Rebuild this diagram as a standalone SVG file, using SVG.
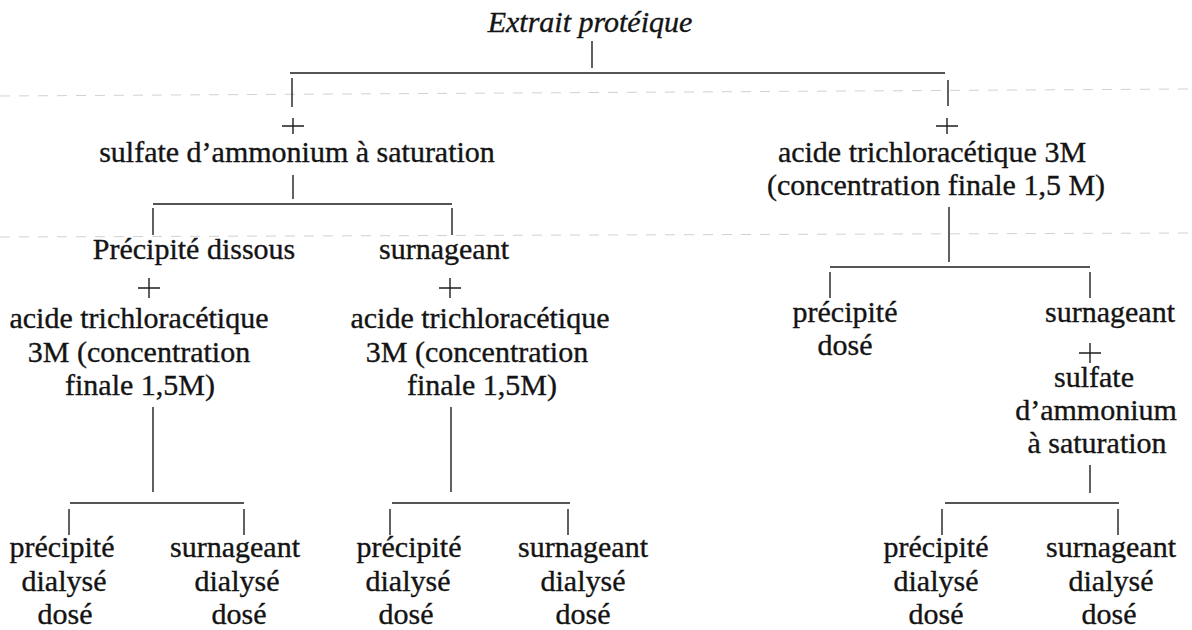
<svg xmlns="http://www.w3.org/2000/svg" xmlns:xlink="http://www.w3.org/1999/xlink" width="1192" height="630" viewBox="0 0 1192 630">
<style>
text{font-family:"Liberation Serif","Times New Roman",serif;font-size:30px;fill:#141414;stroke:#141414;stroke-width:0.35;text-anchor:middle}
.it{font-style:italic}
.ln{stroke:#1e1e1e;stroke-width:1.4;fill:none}
.scan{stroke:#d2d2d2;stroke-width:1;stroke-dasharray:10 9;fill:none}
</style>
<defs>
<path id="plus" d="M-11 0H11M0 -8V8" stroke="#1e1e1e" stroke-width="1.4" fill="none"/>
<path id="plus2" d="M-11 0H11M0 -10V10" stroke="#1e1e1e" stroke-width="1.4" fill="none"/>
</defs>
<rect width="1192" height="630" fill="#ffffff"/>
<g id="scan-marks">
<path class="scan" d="M0 96L1192 89"/>
<path class="scan" d="M0 237L1192 233"/>
</g>
<g id="connectors">
<path class="ln" d="M592 41V68M290 73H945M292 78V107M948 80V106"/>
<path class="ln" d="M293 175V199M153 204H452M153 208V235M452 208V235"/>
<path class="ln" d="M949 207V262M830 267H1090M830 272V298M1090 272V298"/>
<path class="ln" d="M153 407V492M70 503H244M69 509V535M244 509V535"/>
<path class="ln" d="M451 407V492M392 503H570M390 509V535M568 509V535"/>
<path class="ln" d="M1090 465V493M945 503H1119M942 509V535M1118 509V535"/>
<use xlink:href="#plus" x="293" y="126"/>
<use xlink:href="#plus" x="947" y="126"/>
<use xlink:href="#plus2" x="149" y="288"/>
<use xlink:href="#plus2" x="450" y="288"/>
<use xlink:href="#plus2" x="1090" y="353"/>
</g>
<g id="n-extrait"><text class="it" x="590" y="32">Extrait protéique</text></g>
<g id="n-sulfate"><text x="297" y="162">sulfate d’ammonium à saturation</text></g>
<g id="n-tca-right"><text x="932" y="162">acide trichloracétique 3M</text><text x="936" y="195">(concentration finale 1,5 M)</text></g>
<g id="n-precipite-dissous"><text x="194" y="259">Précipité dissous</text></g>
<g id="n-surnageant-left"><text x="444" y="259">surnageant</text></g>
<g id="n-tca-left"><text x="139" y="328">acide trichloracétique</text><text x="139" y="362">3M (concentration</text><text x="140" y="395">finale 1,5M)</text></g>
<g id="n-tca-mid"><text x="480" y="328">acide trichloracétique</text><text x="477" y="362">3M (concentration</text><text x="482" y="395">finale 1,5M)</text></g>
<g id="n-precipite-dose"><text x="845" y="322">précipité</text><text x="845" y="355">dosé</text></g>
<g id="n-surnageant-right"><text x="1110" y="322">surnageant</text></g>
<g id="n-sulfate-right"><text x="1094" y="387">sulfate</text><text x="1096" y="420">d’ammonium</text><text x="1097" y="453">à saturation</text></g>
<g id="n-b1"><text x="62" y="557">précipité</text><text x="64" y="591">dialysé</text><text x="65" y="624">dosé</text></g>
<g id="n-b2"><text x="235" y="557">surnageant</text><text x="237" y="591">dialysé</text><text x="239" y="624">dosé</text></g>
<g id="n-b3"><text x="409" y="557">précipité</text><text x="408" y="591">dialysé</text><text x="406" y="624">dosé</text></g>
<g id="n-b4"><text x="583" y="557">surnageant</text><text x="583" y="591">dialysé</text><text x="583" y="624">dosé</text></g>
<g id="n-b5"><text x="936" y="557">précipité</text><text x="936" y="591">dialysé</text><text x="936" y="624">dosé</text></g>
<g id="n-b6"><text x="1111" y="557">surnageant</text><text x="1111" y="591">dialysé</text><text x="1109" y="624">dosé</text></g>
</svg>
